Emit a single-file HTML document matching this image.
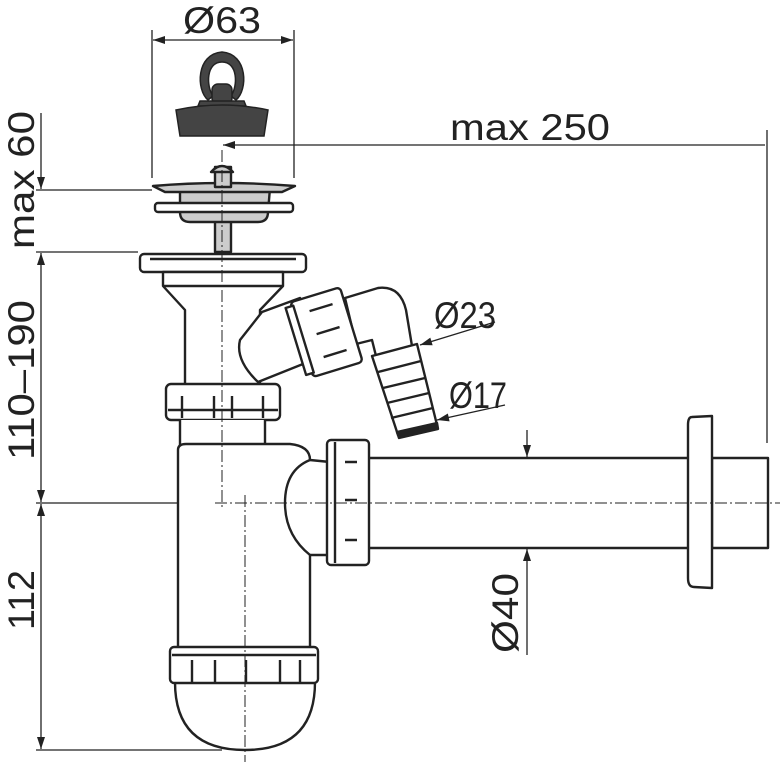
<!DOCTYPE html>
<html><head><meta charset="utf-8"><style>html,body{margin:0;padding:0;background:#fff}svg{display:block}</style></head>
<body>
<svg width="780" height="762" viewBox="0 0 780 762" xmlns="http://www.w3.org/2000/svg" font-family="'Liberation Sans', sans-serif">
<defs>
<marker id="a" viewBox="0 0 12 8" refX="12" refY="4" markerWidth="14" markerHeight="8" orient="auto-start-reverse" markerUnits="userSpaceOnUse"><path d="M0,0 L12,4 L0,8 z" fill="#222"/></marker>
</defs>
<g stroke="#222" stroke-width="1.3" fill="none">
<line x1="152" y1="30" x2="152" y2="178"/>
<line x1="294" y1="30" x2="294" y2="178"/>
<line x1="153" y1="40" x2="293" y2="40" marker-start="url(#a)" marker-end="url(#a)"/>
<line x1="223" y1="145" x2="765" y2="145" marker-start="url(#a)"/>
<line x1="767" y1="130" x2="767" y2="443"/>
<line x1="41" y1="113" x2="41" y2="189" marker-end="url(#a)"/>
<line x1="41" y1="253" x2="41" y2="502" marker-start="url(#a)" marker-end="url(#a)"/>
<line x1="41" y1="504" x2="41" y2="749" marker-start="url(#a)" marker-end="url(#a)"/>
<line x1="36" y1="190" x2="152" y2="190"/>
<line x1="36" y1="252" x2="138" y2="252"/>
<line x1="36" y1="503" x2="215" y2="503"/>
<line x1="36" y1="750" x2="222" y2="750"/>
<line x1="527" y1="430" x2="527" y2="457" marker-end="url(#a)"/>
<line x1="527" y1="655" x2="527" y2="549" marker-end="url(#a)"/>
<line x1="495" y1="322" x2="420" y2="345" marker-end="url(#a)"/>
<line x1="505" y1="405" x2="437" y2="420" marker-end="url(#a)"/>
</g>
<g fill="#222" font-size="37">
<text x="222" y="33" text-anchor="middle" textLength="78" lengthAdjust="spacingAndGlyphs">Ø63</text>
<text x="530" y="140" text-anchor="middle" textLength="160" lengthAdjust="spacingAndGlyphs">max 250</text>
<text transform="translate(34,180) rotate(-90)" text-anchor="middle" textLength="138" lengthAdjust="spacingAndGlyphs">max 60</text>
<text transform="translate(34,380) rotate(-90)" text-anchor="middle" textLength="160" lengthAdjust="spacingAndGlyphs">110–190</text>
<text transform="translate(34,600) rotate(-90)" text-anchor="middle" textLength="60" lengthAdjust="spacingAndGlyphs">112</text>
<text transform="translate(518,613) rotate(-90)" text-anchor="middle" textLength="80" lengthAdjust="spacingAndGlyphs">Ø40</text>
<text x="465" y="328" text-anchor="middle" textLength="62" lengthAdjust="spacingAndGlyphs">Ø23</text>
<text x="478" y="408" text-anchor="middle" textLength="58" lengthAdjust="spacingAndGlyphs">Ø17</text>
</g>
<g fill="#444" stroke="#222" stroke-width="1.5">
<path d="M208,100 C196,90 196,54 222,52 C248,54 248,90 236,100 L231,96 C238,86 238,62 222,62 C206,62 206,86 213,96 Z"/>
<rect x="212" y="84" width="20" height="20" rx="6"/>
<path d="M200,101 L244,101 L246,106 L198,106 Z"/>
<path d="M176,110 Q222,100 268,110 L264,136 L180,136 Z"/>
</g>
<g stroke="#222" stroke-width="2.4" fill="#fff" stroke-linejoin="round">
<rect x="215" y="208" width="16" height="44" fill="#ccc"/>
<path d="M180,188 L270,188 L268,212 Q268,222 258,222 L190,222 Q180,222 180,212 Z" fill="#ccc"/>
<path d="M153,186 Q222,180 295,186 L282,192 L165,192 Z" fill="#ccc"/>
<rect x="155" y="203" width="138" height="9" rx="3"/>
<rect x="215" y="167" width="16" height="20" fill="#ccc"/>
<path d="M211,172 Q222,160 233,172 Z" fill="#ccc"/>
<rect x="140" y="254" width="166" height="18" rx="4"/>
<line x1="150" y1="259" x2="296" y2="259"/>
<path d="M163,272 L283,272 L283,286 L260,310 L260,385 L185,385 L185,310 L163,286 Z"/>
<line x1="163" y1="286" x2="283" y2="286"/>
<path d="M262,312 L300,298 L318,358 L258,382 Q235,360 240,340 Z"/>
<path d="M345,298 L378,288 Q400,285 406,310 L412,346 L376,356 L372,340 L356,344 Z"/>
<g transform="rotate(-17 330 330)">
<rect x="300" y="292" width="52" height="78" rx="4"/>
<rect x="294" y="296" width="8" height="70"/>
<path d="M316,306 L340,306 M316,354 L340,354 M316,330 L340,330"/>
</g>
<path d="M372,356 L417,344 L437,425 L398,435 Z"/>
<path d="M378,372 L421,361 M383,388 L425,378 M387,403 L429,393 M391,418 L433,408"/>
<path d="M397,432 L437,423 L438,429 L399,438 Z" fill="#222"/>
<rect x="166" y="384" width="114" height="36" rx="5"/>
<path d="M182,396 v22 M214,396 v22 M232,396 v22 M263,396 v22 M168,410 h110"/>
<path d="M180,420 L180,445 L265,445 L265,420"/>
<path d="M178,650 L178,450 Q178,444 186,444 L290,444 Q310,446 310,460 L330,462 L330,555 L310,555 L310,650 Z"/>
<path d="M310,460 Q285,470 285,503 Q285,535 310,555"/>
<path d="M175,682 Q175,750 245,750 Q315,750 315,682 Z"/>
<rect x="170" y="647" width="148" height="36" rx="4"/>
<line x1="172" y1="655" x2="316" y2="655"/>
<path d="M192,660 v22 M215,660 v22 M246,660 v22 M280,660 v22 M300,660 v22"/>
<rect x="368" y="458" width="322" height="90"/>
<rect x="712" y="458" width="56" height="90"/>
<path d="M692,417 Q688,417 688,425 L688,578 Q688,587 694,587 L712,588 L712,416 Z"/>
<rect x="327" y="440" width="42" height="125" rx="4"/>
<line x1="335" y1="442" x2="335" y2="563"/>
<path d="M345,462 h12 M345,500 h12 M345,540 h12"/>
</g>
<g stroke="#222" stroke-width="1" stroke-dasharray="12,3,2,3" fill="none">
<line x1="222" y1="150" x2="222" y2="510"/>
<line x1="245" y1="495" x2="245" y2="762"/>
<line x1="215" y1="503" x2="780" y2="503"/>
</g>
</svg>
</body></html>
